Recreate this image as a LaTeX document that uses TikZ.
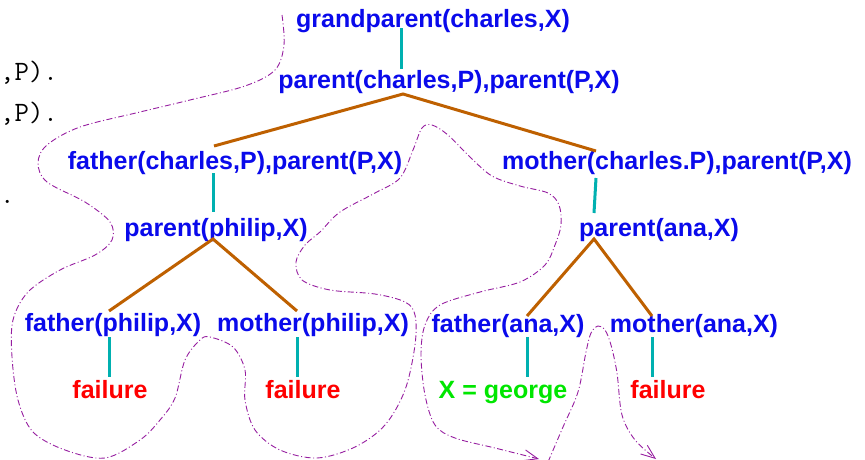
\documentclass[tikz,border=0pt]{standalone}
\usepackage{fontspec}
\setsansfont{Liberation Sans}
\usetikzlibrary{calc,arrows.meta}
\definecolor{tblue}{RGB}{10,10,235}
\definecolor{tred}{RGB}{255,0,0}
\definecolor{tgreen}{RGB}{0,230,0}
\definecolor{tteal}{RGB}{0,176,176}
\definecolor{tbrown}{RGB}{190,96,0}
\definecolor{tpurple}{RGB}{150,30,160}
\begin{document}
\begin{tikzpicture}[x=1pt,y=-1pt,
  goal/.style={font=\sffamily\bfseries\fontsize{25}{30}\selectfont, text=tblue, inner sep=0pt, anchor=base},
  fail/.style={goal, text=tred},
  succ/.style={goal, text=tgreen},
  code/.style={font=\ttfamily\fontsize{28}{32}\selectfont, text=black, inner sep=0pt, anchor=base west},
  vline/.style={draw=tteal, line width=3pt},
  bline/.style={draw=tbrown, line width=3pt},
  trace/.style={draw=tpurple, line width=0.9pt, dash pattern=on 6pt off 2.5pt on 1pt off 2.5pt}]
\useasboundingbox (0,0) rectangle (865,459);
\clip (0,0) rectangle (865,459);
% code fragments on the left edge
\node[code] (c1) at (0,80) {,P).};
\node[code] (c2) at (0,121) {,P).};
\node[code] (c3) at (0,203) {.};
% goals
\node[goal] (gp) at (433,27) {grandparent(charles,X)};
\node[goal] (pc) at (449,88) {parent(charles,P),parent(P,X)};
\node[goal] (fc) at (235,169) {father(charles,P),parent(P,X)};
\node[goal] (mc) at (677,169) {mother(charles.P),parent(P,X)};
\node[goal] (pp) at (216,236) {parent(philip,X)};
\node[goal] (pa) at (659,236) {parent(ana,X)};
\node[goal] (fp) at (113,331) {father(philip,X)};
\node[goal] (mp) at (313,331) {mother(philip,X)};
\node[goal] (fa) at (508,332) {father(ana,X)};
\node[goal] (ma) at (694,332) {mother(ana,X)};
\node[fail] (f1) at (110,398) {failure};
\node[fail] (f2) at (303,398) {failure};
\node[succ] (xg) at (503,398) {X = george};
\node[fail] (f3) at (668,398) {failure};
% connectors
\draw[vline] ($(gp.base)+(-32,1)$) -- ($(pc.base)+(-48,-19)$);
\draw[bline] ($(fc.base)+(-21,-23)$) -- ($(pc.base)+(-46,6)$) -- ($(mc.base)+(-81,-18)$);
\draw[vline] ($(fc.base)+(-22,4)$) -- ($(pp.base)+(-3,-24)$);
\draw[vline] ($(mc.base)+(-81,9)$) -- ($(pa.base)+(-65,-23)$);
\draw[bline] ($(fp.base)+(-4,-20)$) -- ($(pp.base)+(-3,3)$) -- ($(mp.base)+(-16,-20)$);
\draw[bline] ($(fa.base)+(19,-16)$) -- ($(pa.base)+(-65,3)$) -- ($(ma.base)+(-42,-16)$);
\draw[vline] ($(fp.base)+(-4,6)$) -- ($(f1.base)+(-1,-21)$);
\draw[vline] ($(mp.base)+(-16,6)$) -- ($(f2.base)+(-6,-21)$);
\draw[vline] ($(fa.base)+(19,5)$) -- ($(xg.base)+(24,-21)$);
\draw[vline] ($(ma.base)+(-42,5)$) -- ($(f3.base)+(-16,-21)$);
% search trace
\coordinate (t0) at (282,15);
\coordinate (t1) at (539,459);
\coordinate (u0) at (548,462);
\coordinate (u1) at (656,459);
\draw[trace, -{Straight Barb[length=14pt,width=11pt]}] plot[smooth, tension=0.55] coordinates {
  (t0) (284,45) (275,70) (245,86) (190,100) (140,112) (80,127) (47,145) (38,163)
  (47,182) (85,202) (110,222) (112,240) (95,255) (60,270) (28,292) (13,320) (12,357)
  (18,400) (33,432) (65,450) (105,458) (140,440) (160,420) (175,398) (185,360)
  (200,340) (210,337) (233,347) (245,370) (245,400) (255,430) (280,450) (317,458)
  (355,447) (385,425) (405,390) (415,345) (415,315) (405,302) (375,294) (330,290)
  (302,280) (296,262) (305,245) (320,232) (340,212) (375,193) (400,178) (413,150)
  (422,128) (432,125) (448,135) (470,157) (492,176) (520,186) (548,193) (559,205)
  (561,225) (555,245) (545,265) (520,282) (480,292) (440,305) (425,325) (421,355)
  (425,395) (435,425) (455,438) (495,448) (t1)};
\draw[trace, -{Straight Barb[length=14pt,width=11pt]}] plot[smooth, tension=0.55] coordinates {
  (u0) (563,427) (578,392) (586,352) (591,333) (598,326) (605,330) (611,345)
  (617,373) (622,415) (635,440) (u1)};
\end{tikzpicture}
\end{document}
